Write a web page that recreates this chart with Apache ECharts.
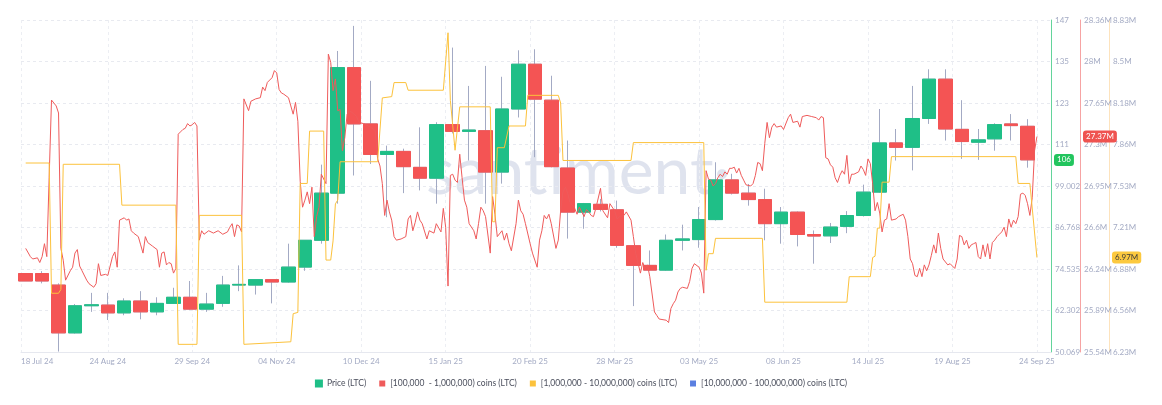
<!DOCTYPE html>
<html>
<head>
<meta charset="utf-8">
<title>LTC holders vs price</title>
<script src="https://cdn.jsdelivr.net/npm/echarts@6.0.0/dist/echarts.min.js"></script>
<style>
html, body { margin: 0; padding: 0; background: #fff; }
#chart { width: 1162px; height: 405px; }
</style>
</head>
<body>
<div id="chart"></div>
<script>
// x axis: days counted from the first date
const startDate = '2024-07-18'
const endDay = 439
const tickDates = ['2024-07-18', '2024-08-24', '2024-09-29', '2024-11-04', '2024-12-10', '2025-01-15',
  '2025-02-20', '2025-03-28', '2025-05-03', '2025-06-08', '2025-07-14', '2025-08-19', '2025-09-24']
const tickLabels = ['18 Jul 24', '24 Aug 24', '29 Sep 24', '04 Nov 24', '10 Dec 24', '15 Jan 25',
  '20 Feb 25', '28 Mar 25', '03 May 25', '08 Jun 25', '14 Jul 25', '19 Aug 25', '24 Sep 25']

// y axes
const priceRange = [50.069, 147.933]
const priceTickLabels = ['50.069', '62.302', '74.535', '86.768', '99.002', '111', '123', '135', '147']
const midRange = [25.54, 28.36]
const midTickLabels = ['25.54M', '25.89M', '26.24M', '26.6M', '26.95M', '27.3M', '27.65M', '28M', '28.36M']
const bigRange = [6.23, 8.83]
const bigTickLabels = ['6.23M', '6.56M', '6.88M', '7.21M', '7.53M', '7.86M', '8.18M', '8.5M', '8.83M']

// weekly LTC candles, first one on day 2
const firstCandleDay = 2
const opens = [73.2, 73.2, 69.8, 55.7, 63.7, 63.9, 61.6, 65.1, 61.9, 64.4, 66.2, 62.7, 64.4, 69.8, 69.8, 71.4,
  70.7, 75.1, 83.0, 96.9, 133.9, 117.3, 108.3, 109.2, 104.5, 101.3, 117.1, 115.1, 115.3, 103.1, 121.7,
  134.9, 124.3, 104.3, 91.3, 93.6, 92.0, 81.4, 75.6, 74.2, 83.0, 83.2, 89.1, 100.8, 96.9, 95.0, 87.9,
  91.3, 84.7, 84.3, 87.1, 90.3, 97.2, 111.7, 110.4, 118.9, 130.5, 115.7, 111.9, 112.9, 117.3, 116.6]
const closes = [71.0, 71.0, 55.7, 63.7, 64.0, 61.6, 65.1, 61.9, 64.4, 66.2, 62.7, 64.2, 69.8, 70.0, 71.4, 70.7,
  75.1, 83.0, 96.9, 133.9, 117.3, 108.3, 109.2, 104.7, 101.3, 117.1, 115.1, 115.5, 103.1, 121.7, 134.9,
  124.6, 104.7, 91.3, 93.8, 92.1, 81.5, 75.6, 74.2, 83.0, 83.4, 89.1, 100.8, 96.9, 95.0, 87.9, 91.3,
  84.7, 84.25, 86.9, 90.3, 97.2, 111.7, 110.4, 118.9, 130.5, 115.8, 112.1, 112.6, 117.1, 116.8, 106.7]
const lows = [71.0, 70.3, 50.2, 55.5, 61.9, 59.5, 60.9, 59.7, 60.9, 64.3, 62.5, 61.9, 63.4, 68.0, 67.0, 64.4,
  70.5, 74.0, 82.0, 93.8, 102.1, 105.5, 89.8, 96.9, 97.7, 93.8, 114.5, 106.5, 93.8, 99.7, 119.2,
  107.5, 104.5, 83.5, 86.4, 91.5, 80.8, 63.6, 74.0, 74.0, 80.0, 80.8, 88.8, 96.5, 93.2, 83.0, 82.0,
  81.2, 76.1, 82.2, 85.1, 90.0, 97.0, 106.5, 103.6, 117.3, 112.4, 107.0, 106.7, 109.4, 112.4, 104.4]
const highs = [73.2, 73.9, 70.3, 64.2, 67.5, 67.5, 65.9, 68.0, 66.2, 69.0, 71.0, 67.5, 72.5, 75.6, 71.5, 71.5,
  82.0, 83.0, 105.3, 138.8, 146.2, 130.0, 110.9, 110.0, 116.3, 117.8, 139.8, 128.5, 134.4, 131.2, 139.0,
  139.3, 131.5, 112.4, 94.0, 95.2, 94.7, 81.6, 80.0, 84.7, 87.6, 92.8, 106.0, 102.6, 99.6, 98.2, 92.8,
  91.5, 85.9, 88.1, 91.6, 99.4, 121.7, 115.8, 128.5, 133.4, 133.4, 124.3, 115.8, 117.5, 120.2, 118.7]

// [day, millions of LTC] held by addresses with 100k - 1M coins
const holders100k = [[2,26.42],[4,26.35],[5,26.33],[7,26.34],[8,26.30],[9,26.35],[10,26.46],[11,26.35],[12,27.02],
  [13,27.68],[15,27.63],[16,27.57],[17,26.42],[18,26.32],[19,26.15],[21,26.23],[22,26.26],[23,26.38],[24,26.41],
  [25,26.27],[26,26.23],[28,26.15],[29,26.12],[31,26.09],[32,26.12],[33,26.29],[34,26.19],[36,26.20],[37,26.19],
  [39,26.35],[40,26.39],[41,26.26],[42,26.66],[44,26.68],[45,26.66],[46,26.67],[47,26.57],[48,26.55],[50,26.52],
  [51,26.45],[52,26.38],[53,26.52],[54,26.47],[56,26.44],[58,26.41],[59,26.26],[60,26.38],[61,26.39],[62,26.28],
  [63,26.30],[64,26.29],[65,26.21],[66,26.25],[67,27.39],[68,27.41],[69,27.43],[70,27.44],[71,27.48],[72,27.46],
  [73,27.47],[74,27.49],[75,27.46],[76,26.49],[77,26.57],[78,26.54],[80,26.57],[82,26.55],[84,26.57],[86,26.54],
  [88,26.56],[89,26.60],[90,26.63],[91,26.52],[92,26.62],[93,26.61],[94,26.56],[95,27.69],[97,27.59],[98,27.67],
  [100,27.69],[102,27.70],[103,27.79],[104,27.76],[105,27.83],[107,27.87],[108,27.93],[109,27.91],[110,27.77],
  [111,27.74],[112,27.73],[114,27.70],[115,27.63],[116,27.56],[117,27.66],[118,27.50],[119,26.99],[120,26.77],
  [121,26.83],[122,26.90],[123,26.80],[124,26.94],[125,26.52],[126,26.69],[127,26.77],[128,27.05],[130,26.97],
  [131,28.07],[132,28.00],[133,27.76],[134,27.86],[135,27.59],[136,27.60],[137,27.25],[138,27.36],[139,27.56],
  [140,27.59],[142,27.56],[143,27.54],[144,27.49],[146,27.48],[149,27.45],[151,27.42],[152,27.18],[153,27.12],
  [154,26.97],[155,26.70],[156,26.83],[157,26.73],[158,26.66],[159,26.52],[160,26.49],[162,26.50],[164,26.52],
  [165,26.67],[166,26.70],[167,26.57],[168,26.64],[169,26.73],[170,26.66],[171,26.63],[173,26.50],[174,26.57],
  [176,26.55],[177,26.63],[179,26.56],[180,26.76],[181,26.60],[182,26.10],[183,27.04],[184,27.05],[185,27.00],
  [186,26.98],[187,27.22],[188,27.02],[189,26.83],[190,26.77],[191,26.63],[193,26.57],[194,26.50],[195,26.63],
  [196,26.77],[197,26.74],[198,26.69],[200,26.38],[201,26.86],[202,26.71],[203,26.52],[205,26.57],[206,26.49],
  [207,26.55],[208,26.46],[209,26.40],[211,26.63],[212,26.83],[213,26.74],[214,26.71],[215,26.63],[217,26.46],
  [218,26.38],[220,26.26],[221,26.49],[222,26.57],[223,26.70],[224,26.67],[225,26.71],[226,26.63],[228,26.42],
  [229,26.49],[230,26.74],[231,26.90],[232,26.94],[233,26.89],[234,26.81],[236,26.76],[237,26.71],[238,26.77],
  [240,26.69],[241,26.75],[242,26.73],[243,26.70],[244,26.69],[245,26.76],[247,26.93],[248,26.74],[250,26.68],
  [251,26.80],[253,26.74],[254,26.67],[255,26.69],[257,26.70],[258,26.73],[260,26.66],[261,26.52],[262,26.38],
  [264,26.21],[265,26.30],[266,26.25],[267,26.28],[268,26.18],[270,25.88],[271,25.85],[272,25.82],[275,25.81],
  [276,25.79],[277,25.91],[278,25.95],[279,25.98],[280,26.05],[281,26.08],[282,26.09],[284,26.08],[285,26.14],
  [286,26.25],[287,26.29],[289,26.26],[290,26.21],[291,26.04],[292,27.08],[293,27.01],[294,27.00],[295,26.95],
  [296,26.97],[297,27.02],[298,27.05],[299,27.03],[300,27.07],[301,27.05],[302,27.10],[303,27.10],[304,27.11],
  [305,27.06],[306,27.10],[307,27.04],[308,27.00],[309,26.96],[311,26.95],[312,26.97],[313,27.04],[314,27.15],
  [315,27.14],[316,27.08],[317,27.31],[318,27.49],[319,27.36],[320,27.45],[321,27.48],[322,27.45],[324,27.46],
  [325,27.43],[327,27.53],[328,27.56],[329,27.49],[331,27.50],[332,27.45],[333,27.54],[335,27.55],[337,27.54],
  [339,27.53],[340,27.51],[341,27.54],[342,27.53],[343,27.19],[344,27.18],[345,27.13],[346,27.11],[347,27.02],
  [348,26.98],[349,27.04],[350,27.08],[351,27.05],[352,27.21],[353,26.97],[354,27.05],[355,27.05],[357,27.07],
  [358,27.12],[359,27.09],[360,27.04],[361,27.18],[362,27.14],[363,26.97],[364,26.74],[365,26.81],[366,26.72],
  [367,26.56],[368,26.66],[369,26.67],[370,26.80],[371,26.66],[373,26.67],[374,26.69],[376,26.71],[377,26.66],
  [378,26.52],[379,26.33],[380,26.29],[381,26.19],[382,26.18],[383,26.25],[384,26.18],[385,26.28],[386,26.23],
  [387,26.28],[388,26.36],[389,26.45],[390,26.38],[391,26.55],[392,26.42],[393,26.33],[395,26.28],[396,26.29],
  [398,26.25],[399,26.33],[400,26.53],[401,26.52],[402,26.45],[403,26.49],[404,26.42],[405,26.45],[406,26.46],
  [407,26.47],[408,26.35],[409,26.33],[410,26.45],[411,26.35],[412,26.46],[413,26.33],[414,26.47],[415,26.49],
  [416,26.52],[417,26.54],[418,26.56],[419,26.60],[420,26.52],[421,26.67],[422,26.60],[423,26.66],[424,26.63],
  [425,26.69],[426,26.88],[427,26.89],[428,26.87],[429,26.80],[430,26.70],[431,26.85],[432,27.25],[433,27.37]]

// [day, millions of LTC] held by addresses with 1M - 10M coins
const holders1m = [[2,7.71],[12,7.71],[13,6.69],[16,6.69],[17,6.72],[18,7.70],[42,7.70],[43,7.38],[66,7.38],
  [67,6.29],[75,6.29],[76,7.30],[94,7.30],[95,6.29],[115,6.31],[116,6.53],[118,6.54],[119,7.55],[122,7.55],
  [123,7.96],[129,7.96],[130,6.95],[132,6.95],[133,7.10],[134,7.39],[135,7.42],[136,7.72],[152,7.72],[154,8.22],
  [158,8.23],[159,8.34],[164,8.34],[165,8.28],[180,8.28],[182,8.73],[183,8.20],[185,7.81],[187,8.15],[200,8.15],
  [201,7.25],[202,7.25],[203,7.83],[206,7.83],[208,8.00],[215,8.00],[216,8.24],[229,8.24],[230,8.18],[231,7.73],
  [260,7.73],[261,7.87],[291,7.87],[292,6.87],[293,7.00],[295,7.00],[296,7.12],[316,7.12],[317,6.62],[352,6.62],
  [353,6.82],[362,6.82],[363,6.97],[364,6.98],[365,7.20],[366,7.20],[367,7.56],[370,7.56],[371,7.76],[424,7.76],
  [425,7.55],[430,7.55],[433,6.97]]

// addresses with 10M - 100M coins: nothing in range
const holders10m = []

const upColor = '#1fbf87'
const downColor = '#f45454'
const wickColor = '#a3aac4'
const labelColor = '#a4abc4'
const font = 'Lato, "Open Sans", sans-serif'

const dayOf = d => Math.round((Date.parse(d) - Date.parse(startDate)) / 864e5)
const tickDays = tickDates.map(dayOf)
const ticksOf = (range, n) => Array.from({ length: n }, (_, i) => range[0] + (range[1] - range[0]) * i / (n - 1))
const priceTicks = ticksOf(priceRange, priceTickLabels.length)
const midTicks = ticksOf(midRange, midTickLabels.length)
const bigTicks = ticksOf(bigRange, bigTickLabels.length)
const nearestLabel = (values, labels) => v => {
  let best = 0
  values.forEach((t, i) => { if (Math.abs(t - v) < Math.abs(values[best] - v)) best = i })
  return labels[best]
}

const candles = opens.map((o, i) => [firstCandleDay + i * 7, o, closes[i], lows[i], highs[i]])
// bodies only, so the wick can keep its own colour
const bodies = candles.map(([d, o, c]) => [d, o, c, Math.min(o, c), Math.max(o, c)])
const lastClose = closes[closes.length - 1]
const last100k = holders100k[holders100k.length - 1][1]
const last1m = holders1m[holders1m.length - 1][1]

function valueAxis(range, ticks, labels, offset, lineColor, badge) {
  return {
    type: 'value',
    position: 'right',
    offset,
    min: range[0],
    max: range[1],
    axisLine: { show: true, onZero: false, lineStyle: { color: lineColor, width: 1 } },
    axisTick: { show: false, customValues: ticks },
    axisLabel: {
      customValues: ticks,
      formatter: nearestLabel(ticks, labels),
      color: labelColor,
      fontSize: 8,
      fontFamily: font,
      margin: 4
    },
    splitLine: { show: false },
    axisPointer: {
      show: true,
      status: 'show',
      value: badge.value,
      type: 'line',
      triggerTooltip: false,
      lineStyle: { opacity: 0 },
      label: {
        show: true,
        formatter: badge.formatter,
        backgroundColor: badge.bg,
        color: badge.color,
        fontSize: 8,
        fontFamily: font,
        padding: [2, 3],
        margin: 3
      }
    }
  }
}

const priceAxis = valueAxis(priceRange, priceTicks, priceTickLabels, 0, '#63d49b',
  { value: lastClose, formatter: p => String(Math.floor(p.value)), bg: '#22c55e', color: '#fff' })
priceAxis.splitLine = { show: true, lineStyle: { color: '#e8eaf0', type: [3, 3] } }

const chart = echarts.init(document.getElementById('chart'))
chart.setOption({
  backgroundColor: '#fff',
  animation: false,
  textStyle: { fontFamily: font },
  grid: { left: 21, right: 111, top: 20, bottom: 53, outerBoundsMode: 'none' },
  graphic: [{
    type: 'text',
    left: 426,
    top: 140,
    z: -10,
    silent: true,
    style: { text: 'santiment·', fontSize: 66, fontFamily: font, fontWeight: 400, fill: '#dfe3ee' }
  }],
  legend: {
    top: 374,
    left: 'center',
    icon: 'rect',
    itemWidth: 6,
    itemHeight: 6,
    itemGap: 13,
    textStyle: { fontSize: 8.5, color: '#4a4e5c', fontFamily: font },
    data: [
      { name: 'Price (LTC)', itemStyle: { color: upColor } },
      { name: '[100,000  - 1,000,000) coins (LTC)', itemStyle: { color: '#ef5b5b' } },
      { name: '[1,000,000 - 10,000,000) coins (LTC)', itemStyle: { color: '#fcc23c' } },
      { name: '[10,000,000 - 100,000,000) coins (LTC)', itemStyle: { color: '#5b7fe0' } }
    ]
  },
  xAxis: {
    type: 'value',
    min: 0,
    max: endDay,
    axisLine: { show: true, onZero: false, lineStyle: { color: '#e6e8ef' } },
    axisTick: { show: false, customValues: tickDays },
    axisLabel: {
      customValues: tickDays,
      formatter: v => tickLabels[tickDays.indexOf(Math.round(v))] || '',
      color: labelColor,
      fontSize: 8,
      fontFamily: font,
      margin: 5,
      alignMinLabel: 'left'
    },
    splitLine: { show: true, lineStyle: { color: '#eceef3', type: [3, 3] } }
  },
  yAxis: [
    priceAxis,
    valueAxis(midRange, midTicks, midTickLabels, 29, '#f6a3a3',
      { value: last100k, formatter: p => p.value.toFixed(2) + 'M', bg: '#ef5350', color: '#fff' }),
    valueAxis(bigRange, bigTicks, bigTickLabels, 58, '#fde3bd',
      { value: last1m, formatter: p => p.value.toFixed(2) + 'M', bg: '#fcc93f', color: '#3b3b3b' })
  ],
  series: [
    {
      name: 'wicks',
      type: 'candlestick',
      yAxisIndex: 0,
      barWidth: 14,
      encode: { x: 0, y: [1, 2, 3, 4] },
      itemStyle: { color: 'transparent', color0: 'transparent', borderColor: wickColor, borderColor0: wickColor, borderWidth: 1 },
      data: candles,
      z: 2
    },
    {
      name: 'Price (LTC)',
      type: 'candlestick',
      yAxisIndex: 0,
      barWidth: 14,
      encode: { x: 0, y: [1, 2, 3, 4] },
      itemStyle: { color: upColor, color0: downColor, borderColor: upColor, borderColor0: downColor, borderWidth: 1 },
      data: bodies,
      z: 3
    },
    {
      name: '[100,000  - 1,000,000) coins (LTC)',
      type: 'line',
      yAxisIndex: 1,
      symbol: 'none',
      lineStyle: { color: '#ef5b5b', width: 1 },
      itemStyle: { color: '#ef5b5b' },
      data: holders100k,
      z: 4
    },
    {
      name: '[1,000,000 - 10,000,000) coins (LTC)',
      type: 'line',
      yAxisIndex: 2,
      symbol: 'none',
      lineStyle: { color: '#fcc23c', width: 1 },
      itemStyle: { color: '#fcc23c' },
      data: holders1m,
      z: 4
    },
    {
      name: '[10,000,000 - 100,000,000) coins (LTC)',
      type: 'line',
      yAxisIndex: 0,
      symbol: 'none',
      lineStyle: { color: '#5b7fe0', width: 1 },
      itemStyle: { color: '#5b7fe0' },
      data: holders10m
    }
  ]
})
</script>
</body>
</html>
